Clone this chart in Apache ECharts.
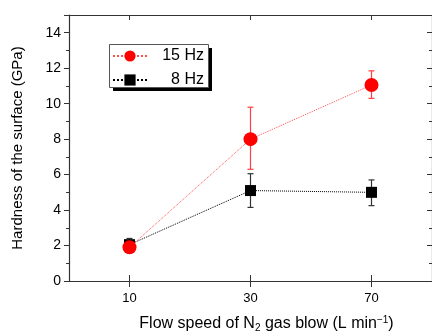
<!DOCTYPE html>
<html>
<head>
<meta charset="utf-8">
<script src="https://cdn.jsdelivr.net/npm/echarts@6/dist/echarts.min.js"></script>
<style>
  html, body { margin: 0; padding: 0; background: #fff; }
  #chart { width: 432px; height: 331px; }
</style>
</head>
<body>
<div id="chart"></div>
<script>
// flow speed categories (L/min)
var categories = ['10', '30', '70'];

// 15 Hz: mean, lower and upper ends of the error bar
var hz15 = [1.9, 8.0, 11.05];
var hz15Low = [1.8, 6.3, 10.3];
var hz15High = [2.0, 9.8, 11.85];

// 8 Hz
var hz8 = [2.05, 5.1, 5.0];
var hz8Low = [1.9, 4.15, 4.25];
var hz8High = [2.4, 6.05, 5.7];

var FONT = '"Liberation Sans", Arial, sans-serif';

function errData(low, high) {
    return categories.map(function (c, i) { return [i, low[i], high[i]]; });
}

function errRender(color) {
    return function (params, api) {
        var x = api.value(0);
        var lo = api.coord([x, api.value(1)]);
        var hi = api.coord([x, api.value(2)]);
        var w = 3;
        var st = { stroke: color, lineWidth: 1.2 };
        return {
            type: 'group',
            children: [
                { type: 'line', shape: { x1: lo[0], y1: lo[1], x2: hi[0], y2: hi[1] }, style: st },
                { type: 'line', shape: { x1: hi[0] - w, y1: hi[1], x2: hi[0] + w, y2: hi[1] }, style: st },
                { type: 'line', shape: { x1: lo[0] - w, y1: lo[1], x2: lo[0] + w, y2: lo[1] }, style: st }
            ]
        };
    };
}

var axisLine = { show: true, lineStyle: { color: '#333', width: 1.2 } };

var chart = echarts.init(document.getElementById('chart'));
chart.setOption({
    animation: false,
    grid: { left: 69, top: 15, width: 363, bottom: 50, containLabel: false, outerBoundsMode: 'none' },
    // legend frame with a hard black drop shadow
    graphic: [
        { type: 'rect', left: 113, top: 48, shape: { width: 99, height: 43 }, style: { fill: '#000' }, z: 10 },
        { type: 'rect', left: 109, top: 44, shape: { width: 99, height: 43 }, style: { fill: '#fff', stroke: '#555', lineWidth: 1 }, z: 11 }
    ],
    legend: {
        orient: 'vertical',
        left: 112,
        top: 48,
        padding: 0,
        itemWidth: 34,
        itemHeight: 14,
        itemGap: 8,
        z: 20,
        formatter: function (name) { return '{a|' + name + '}'; },
        textStyle: {
            fontFamily: FONT, fontSize: 16, color: '#000',
            rich: { a: { fontFamily: FONT, fontSize: 16, color: '#000', width: 52, align: 'right' } }
        },
        data: ['15 Hz', '8 Hz']
    },
    xAxis: [
        {
            type: 'category', data: categories, position: 'bottom',
            axisLine: axisLine,
            axisTick: { show: true, alignWithLabel: true, inside: false, length: 6, lineStyle: { color: '#333' } },
            axisLabel: { fontFamily: FONT, fontSize: 13, color: '#000', margin: 11 },
            name: '{t|Flow speed of N}{sub|2}{t| gas blow (L min}{sup|−1}{t|)}',
            nameLocation: 'middle',
            nameGap: 34,
            nameTextStyle: {
                padding: [0, 0, 0, 32],
                rich: {
                    t: { fontFamily: FONT, fontSize: 16, color: '#000' },
                    sub: { fontFamily: FONT, fontSize: 10, color: '#000', verticalAlign: 'bottom', padding: [7, 0, 0, 0] },
                    sup: { fontFamily: FONT, fontSize: 10, color: '#000', verticalAlign: 'top', padding: [0, 0, 8, 0] }
                }
            }
        },
        {
            type: 'category', data: categories, position: 'bottom',
            axisLine: { show: false },
            axisTick: { show: true, alignWithLabel: true, inside: true, length: 6, lineStyle: { color: '#333' } },
            axisLabel: { show: false }
        },
        {
            type: 'category', data: categories, position: 'top',
            axisLine: axisLine,
            axisTick: { show: true, alignWithLabel: true, inside: true, length: 5, lineStyle: { color: '#333' } },
            axisLabel: { show: false }
        }
    ],
    yAxis: [
        {
            type: 'value', min: 0, max: 15, interval: 2, position: 'left',
            axisLine: axisLine,
            axisTick: { show: true, inside: false, length: 5, lineStyle: { color: '#333' } },
            minorTick: { show: true, splitNumber: 2, length: 3, lineStyle: { color: '#333' } },
            splitLine: { show: false },
            axisLabel: { fontFamily: FONT, fontSize: 14, color: '#000', margin: 8, showMaxLabel: false },
            name: 'Hardness of the surface (GPa)',
            nameLocation: 'middle',
            nameGap: 44,
            nameTextStyle: { fontFamily: FONT, fontSize: 15, color: '#000' }
        },
        {
            type: 'value', min: 0, max: 15, interval: 2, position: 'right',
            axisLine: axisLine,
            axisTick: { show: true, inside: true, length: 5, lineStyle: { color: '#333' } },
            minorTick: { show: true, splitNumber: 2, length: 3, lineStyle: { color: '#333' } },
            splitLine: { show: false },
            axisLabel: { show: false }
        }
    ],
    series: [
        {
            name: '15 Hz', type: 'line', data: hz15, z: 5,
            symbol: 'circle', symbolSize: 14,
            itemStyle: { color: '#ff0000' },
            lineStyle: { color: '#ff5050', width: 1, type: 'dotted' }
        },
        {
            name: '8 Hz', type: 'line', data: hz8, z: 4,
            symbol: 'rect', symbolSize: 11,
            itemStyle: { color: '#000' },
            lineStyle: { color: '#000', width: 1, type: 'dotted' }
        },
        {
            type: 'custom', data: errData(hz15Low, hz15High), z: 3,
            renderItem: errRender('#ff4040'), silent: true
        },
        {
            type: 'custom', data: errData(hz8Low, hz8High), z: 2,
            renderItem: errRender('#333'), silent: true
        }
    ]
});
</script>
</body>
</html>
